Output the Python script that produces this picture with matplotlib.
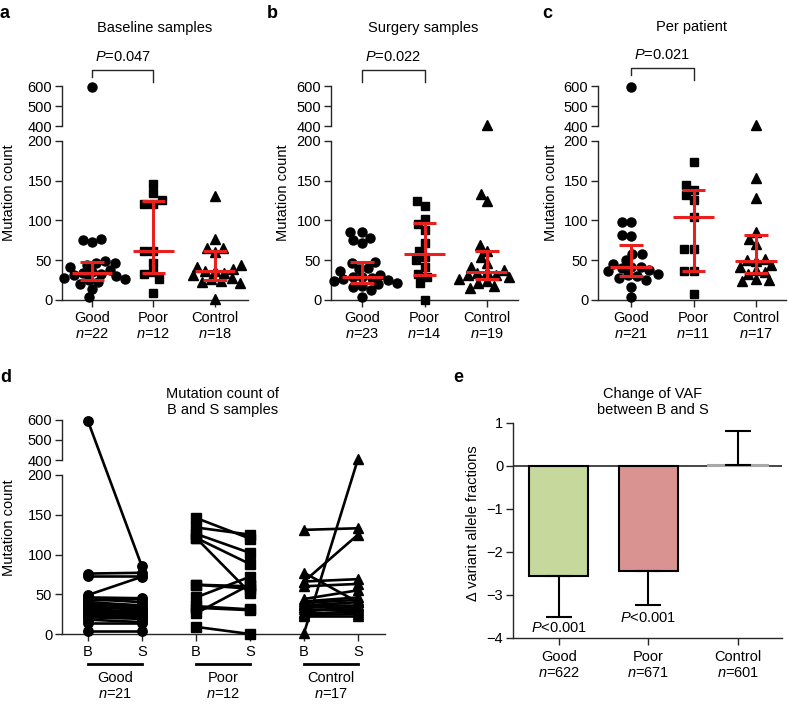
import numpy as np
import matplotlib
matplotlib.use('Agg')
import matplotlib.pyplot as plt
from matplotlib.lines import Line2D

plt.rcParams['font.family'] = ['Liberation Sans', 'DejaVu Sans']
plt.rcParams['mathtext.fontset'] = 'custom'
plt.rcParams['mathtext.rm'] = 'Liberation Sans'
plt.rcParams['mathtext.it'] = 'Liberation Sans:italic'
plt.rcParams['font.size'] = 10.5

# ---------------- data ----------------
groups = ['Good', 'Poor', 'Control']
markers = ['o', 's', '^']

baseline_good = [4, 14, 20, 23, 25, 26, 28, 30, 31, 33, 34, 35, 38, 41, 44, 46, 47, 49, 73, 76, 77, 595]
baseline_poor = [9, 26, 33, 35, 46, 62, 62, 121, 121, 126, 134, 146]
baseline_control = [1, 22, 23, 24, 26, 28, 31, 34, 36, 37, 39, 41, 44, 60, 66, 66, 77, 131]

surgery_good = [4, 13, 16, 18, 20, 22, 24, 25, 27, 28, 29, 29, 32, 37, 39, 40, 46, 48, 72, 76, 78, 85, 86]
surgery_poor = [0, 21, 28.5, 33, 41, 50, 53.5, 62, 72, 88, 95.5, 102, 118, 124.5]
surgery_control = [15, 17, 22, 24, 27, 29, 31, 32, 34, 35, 38, 42, 46, 54, 62, 69, 125, 133, 405]

patient_good = [4, 16, 25, 28, 30, 31, 33, 36, 38, 40, 41, 42, 45, 50, 58, 58, 80, 82, 98, 98, 595]
patient_poor = [8, 36, 36, 64, 64, 105, 126, 132, 138, 145, 173]
patient_control = [24, 25, 26, 33, 35, 38, 42, 44, 49, 50, 52, 70, 77, 86, 128, 153, 405]

p_values = ['0.047', '0.022', '0.021']

pair_good_B = [595, 76, 73, 49, 46, 44, 42, 40, 37, 35, 33, 31, 30, 28, 26, 25, 23, 21, 18, 14, 4]
pair_good_S = [85, 77, 73, 72, 45, 40, 44, 36, 34, 30, 32, 28, 27, 25, 24, 22, 20, 19, 15, 14, 4]
pair_poor_B = [146, 134, 126, 121, 121, 62, 62, 46, 35, 33, 26, 9]
pair_poor_S = [120, 125, 102, 88, 52, 60, 57, 72, 31, 30, 62, 0]
pair_control_B = [131, 77, 66, 66, 60, 44, 41, 39, 37, 36, 34, 31, 28, 26, 24, 23, 1]
pair_control_S = [133, 40, 125, 69, 63, 55, 46, 43, 37, 40, 33, 30, 35, 28, 25, 23, 405]

vaf_mean = [-2.56, -2.45, 0.02]
vaf_err = [0.95, 0.78, 0.78]
vaf_n = [622, 671, 601]
vaf_colors = ['#C6D89B', '#D99391', 'white']
vaf_edges = ['black', 'black', '#A8A8A8']

# ---------------- style ----------------
W, H = 788, 706
SPINE = '#262626'
RED = '#E8211F'
LW = 1.0
YTICKS = [0, 50, 100, 150, 200, 400, 500, 600]

fig = plt.figure(figsize=(W / 100, H / 100), dpi=100)


def brk_fwd(v):
    v = np.asarray(v, dtype=float)
    return np.where(v <= 200, v * 159 / 200,
                    np.where(v < 400, 159 + (v - 200) * 15 / 200,
                             174 + (v - 400) * 40 / 200))


def brk_inv(p):
    p = np.asarray(p, dtype=float)
    return np.where(p <= 159, p * 200 / 159,
                    np.where(p < 174, 200 + (p - 159) * 200 / 15,
                             400 + (p - 174) * 200 / 40))


def add_axes_px(left, top, right, bottom):
    return fig.add_axes([left / W, (H - bottom) / H, (right - left) / W, (bottom - top) / H])


def setup_broken(ax, xlim):
    ax.set_yscale('function', functions=(brk_fwd, brk_inv))
    ax.set_ylim(0, 600)
    ax.set_xlim(*xlim)
    ax.set_yticks(YTICKS)
    ax.set_yticklabels([str(t) for t in YTICKS])
    ax.minorticks_off()
    for s in ['top', 'right']:
        ax.spines[s].set_visible(False)
    for s in ['left', 'bottom']:
        ax.spines[s].set_color(SPINE)
        ax.spines[s].set_linewidth(LW)
    ax.spines['left'].set_bounds(0, 200)
    ax.add_line(Line2D([0, 0], [400, 600], transform=ax.get_yaxis_transform(),
                       color=SPINE, lw=LW, clip_on=False))
    ax.tick_params(axis='y', length=5, width=LW, color=SPINE, pad=2, labelsize=10.5)
    ax.tick_params(axis='x', length=5, width=LW, color=SPINE, pad=3, labelsize=10.5)


def swarm(vals, px_per_unit, dx=9.5, dy=8.5):
    """Beeswarm placed from the densest (median) region outward."""
    ypx = brk_fwd(vals)
    med = np.median(ypx)
    order = np.argsort(np.abs(ypx - med), kind='stable')
    placed = []
    offs = np.zeros(len(vals))
    for i in order:
        y = ypx[i]
        intervals = []
        for px, py in placed:
            r = abs(y - py) / dy
            if r < 1:
                w = dx * np.sqrt(1 - r * r)
                intervals.append((px - w, px + w))
        cands = [0.0] + [a for a, b in intervals] + [b for a, b in intervals]
        cands = sorted(cands, key=lambda c: (abs(c), c))
        chosen = 0.0
        for c in cands:
            if all(not (a + 1e-6 < c < b - 1e-6) for a, b in intervals):
                chosen = c
                break
        placed.append((chosen, y))
        offs[i] = chosen / px_per_unit
    return offs


def label_xticks(ax, data):
    ax.set_xticks(range(len(groups)))
    ax.set_xticklabels([f"{g}\n$\\it{{n}}$={len(v)}" for g, v in zip(groups, data)],
                       linespacing=1.15)


def scatter_panel(box, xlim, data, title, title_xy, letter, letter_xy, ylab_x, pval, bracket_px):
    left, top, right, bottom = box
    ax = add_axes_px(left, top, right, bottom)
    setup_broken(ax, xlim)
    ppu = (right - left) / (xlim[1] - xlim[0])
    sizes = {'o': 6.5, 's': 6.3, '^': 7.0}
    for i, (vals, m) in enumerate(zip(data, markers)):
        vals = np.asarray(vals, dtype=float)
        offs = swarm(vals, ppu)
        ax.plot(i + offs, vals, ls='none', marker=m, color='black', ms=sizes[m],
                clip_on=False, zorder=3)
        q1, med, q3 = np.percentile(vals, [25, 50, 75], method='weibull')
        ax.plot([i - 0.33, i + 0.33], [med, med], color=RED, lw=2.2, zorder=4, solid_capstyle='butt')
        ax.plot([i, i], [q1, q3], color=RED, lw=2.2, zorder=4, solid_capstyle='butt')
        for q in (q1, q3):
            ax.plot([i - 0.19, i + 0.19], [q, q], color=RED, lw=2.2, zorder=4, solid_capstyle='butt')
    label_xticks(ax, data)
    # bracket
    ytop, yl, yr = bracket_px
    h = bottom - top
    tr = ax.get_xaxis_transform()
    ax.plot([0, 0, 1, 1], [(bottom - yl) / h, (bottom - ytop) / h, (bottom - ytop) / h, (bottom - yr) / h],
            color=SPINE, lw=LW, transform=tr, clip_on=False)
    ax.text(0.5, (bottom - (ytop - 13)) / h, f"$\\it{{P}}$={pval}", transform=tr,
            ha='center', va='center', fontsize=10.5)
    fig.text(title_xy[0] / W, 1 - title_xy[1] / H, title, ha='center', va='center', fontsize=10.5)
    fig.text(letter_xy[0] / W, 1 - letter_xy[1] / H, letter, ha='left', va='center',
             fontsize=13, fontweight='bold')
    fig.text(ylab_x / W, 1 - ((top + bottom) / 2) / H, 'Mutation count', rotation=90,
             ha='center', va='center', fontsize=10.5)
    return ax


# Panel a
scatter_panel((62, 86, 248, 300), (-0.49, 2.54),
              [baseline_good, baseline_poor, baseline_control],
              'Baseline samples', (155, 28), 'a', (0, 14), 9, p_values[0], (70, 77, 82))
# Panel b
scatter_panel((331, 86, 518, 300), (-0.5, 2.5),
              [surgery_good, surgery_poor, surgery_control],
              'Surgery samples', (423, 28), 'b', (267, 13), 283, p_values[1], (70, 82, 82))
# Panel c
scatter_panel((598, 86, 786, 300), (-0.53, 2.48),
              [patient_good, patient_poor, patient_control],
              'Per patient', (692, 27), 'c', (542, 13), 551, p_values[2], (68, 75, 80))

# ---------------- Panel d ----------------
left, top, right, bottom = 62, 420, 385, 634
axd = add_axes_px(left, top, right, bottom)
setup_broken(axd, (-0.48, 5.5))
pairs = [(pair_good_B, pair_good_S), (pair_poor_B, pair_poor_S), (pair_control_B, pair_control_S)]
for gi, ((bv, sv), m) in enumerate(zip(pairs, markers)):
    xb, xs = 2 * gi, 2 * gi + 1
    for b, s in zip(bv, sv):
        axd.plot([xb, xs], [b, s], color='black', lw=1.9, marker=m,
                 ms=6.8 if m != '^' else 7.2, clip_on=False, zorder=3)
axd.set_xticks(range(6))
axd.set_xticklabels(['B', 'S'] * 3)
axd.tick_params(axis='x', pad=3)
trd = axd.get_xaxis_transform()
hd = bottom - top
for gi, (bv, sv) in enumerate(pairs):
    yline = (bottom - 664) / hd
    axd.plot([2 * gi, 2 * gi + 1], [yline, yline], color='black', lw=2.0, transform=trd, clip_on=False)
    axd.text(2 * gi + 0.5, (bottom - 686) / hd, f"{groups[gi]}\n$\\it{{n}}$={len(bv)}",
             transform=trd, ha='center', va='center', fontsize=10.5, linespacing=1.15)
fig.text(223 / W, 1 - 402 / H, 'Mutation count of\nB and S samples', ha='center', va='center',
         fontsize=10.5, linespacing=1.15)
fig.text(0 / W, 1 - 377 / H, 'd', ha='left', va='center', fontsize=13, fontweight='bold')
fig.text(9 / W, 1 - 528 / H, 'Mutation count', rotation=90, ha='center', va='center', fontsize=10.5)

# ---------------- Panel e ----------------
axe = add_axes_px(513, 422.7, 782, 637.7)
axe.set_xlim(-0.51, 2.49)
axe.set_ylim(-4, 1)
xs_e = np.arange(len(groups))
axe.axhline(0, color=SPINE, lw=1.2, zorder=1)
axe.bar(xs_e, vaf_mean, width=0.66, color=vaf_colors, edgecolor=vaf_edges, linewidth=1.5, zorder=2)
lower = [e if m < 0 else 0 for m, e in zip(vaf_mean, vaf_err)]
upper = [e if m >= 0 else 0 for m, e in zip(vaf_mean, vaf_err)]
axe.errorbar(xs_e, vaf_mean, yerr=[lower, upper], fmt='none', ecolor='black', elinewidth=1.5,
             capsize=9.5, capthick=1.5, zorder=3)
for s in ['top', 'right']:
    axe.spines[s].set_visible(False)
for s in ['left', 'bottom']:
    axe.spines[s].set_color(SPINE)
    axe.spines[s].set_linewidth(LW)
axe.set_yticks([-4, -3, -2, -1, 0, 1])
axe.set_xticks(xs_e)
axe.set_xticklabels([f"{g}\n$\\it{{n}}$={n}" for g, n in zip(groups, vaf_n)], linespacing=1.15)
axe.tick_params(axis='y', length=5, width=LW, color=SPINE, pad=2, labelsize=10.5)
axe.tick_params(axis='x', length=5, width=LW, color=SPINE, pad=4, labelsize=10.5)
axe.text(0, -3.78, '$\\it{P}$<0.001', ha='center', va='center', fontsize=10.5)
axe.text(1, -3.54, '$\\it{P}$<0.001', ha='center', va='center', fontsize=10.5)
fig.text(653 / W, 1 - 402 / H, 'Change of VAF\nbetween B and S', ha='center', va='center',
         fontsize=10.5, linespacing=1.15)
fig.text(453 / W, 1 - 378 / H, 'e', ha='left', va='center', fontsize=13, fontweight='bold')
fig.text(473 / W, 1 - 523 / H, '\u0394 variant allele fractions', rotation=90, ha='center',
         va='center', fontsize=10.5)

fig.savefig('out.png', dpi=100)
